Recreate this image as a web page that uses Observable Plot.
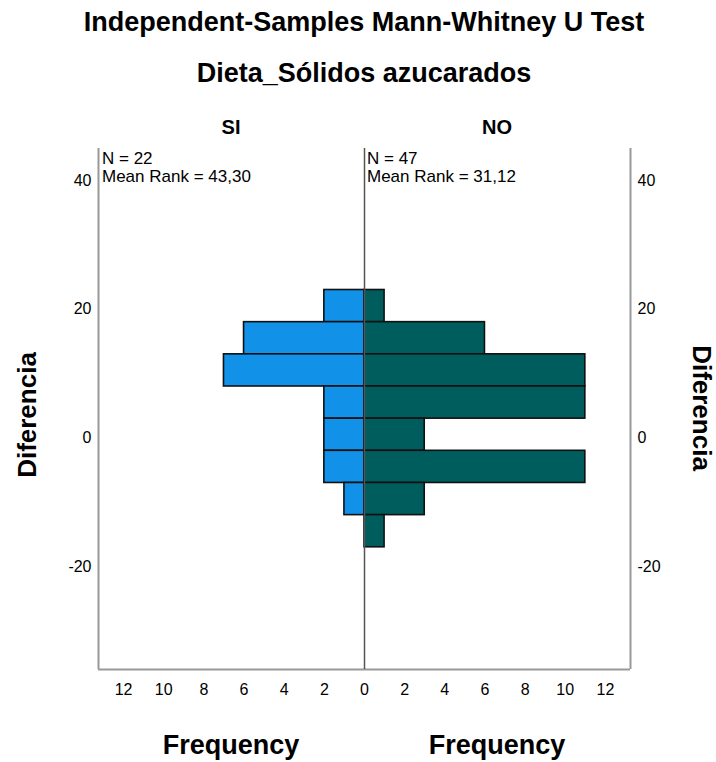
<!DOCTYPE html>
<html>
<head>
<meta charset="utf-8">
<script src="https://cdn.jsdelivr.net/npm/d3@7"></script>
<script src="https://cdn.jsdelivr.net/npm/@observablehq/plot@0.6"></script>
<style>
  body { margin: 0; background: #fff; }
  #wrap { position: relative; width: 716px; height: 762px; overflow: hidden; font-family: "Liberation Sans", Arial, sans-serif; color: #000; }
  .t { position: absolute; white-space: nowrap; }
  .bold { font-weight: bold; }
</style>
</head>
<body>
<div id="wrap"></div>
<script>
// ---- data ----
const title = "Independent-Samples Mann-Whitney U Test";
const subtitle = "Dieta_Sólidos azucarados";
const groups = ["SI", "NO"];
const groupN = [22, 47];
const groupMeanRank = ["43,30", "31,12"];
const binStart = [18, 13, 8, 3, -2, -7, -12, -17];
const binEnd   = [23, 18, 13, 8, 3, -2, -7, -12];
const freqSI = [2, 6, 7, 2, 2, 2, 1, 0];
const freqNO = [1, 6, 11, 11, 3, 11, 3, 1];
const yTicks = [-20, 0, 20, 40];
const xTicks = [-12, -10, -8, -6, -4, -2, 0, 2, 4, 6, 8, 10, 12];
const yLabel = "Diferencia";
const xLabel = "Frequency";
const colors = ["#1192e8", "#005d5d"];

const yDomain = [-36, 45];
const xDomain = [-13.25, 13.25];

const siBars = binStart.map((s, i) => ({y1: s, y2: binEnd[i], f: -freqSI[i]})).filter(d => d.f !== 0);
const noBars = binStart.map((s, i) => ({y1: s, y2: binEnd[i], f: freqNO[i]})).filter(d => d.f !== 0);

const chart = Plot.plot({
  width: 716,
  height: 762,
  marginTop: 148,
  marginBottom: 93,
  marginLeft: 98,
  marginRight: 86,
  style: {fontFamily: "Liberation Sans, Arial, sans-serif", fontSize: "16px", color: "#000", background: "#fff"},
  x: {domain: xDomain, axis: null},
  y: {domain: yDomain, axis: null},
  marks: [
    Plot.ruleX([xDomain[0], xDomain[1]], {stroke: "#999", strokeWidth: 2}),
    Plot.ruleY([yDomain[0]], {stroke: "#999", strokeWidth: 2}),
    Plot.rectX(siBars, {x1: 0, x2: "f", y1: "y1", y2: "y2", fill: colors[0], stroke: "#111", strokeWidth: 1.6, inset: 0}),
    Plot.rectX(noBars, {x1: 0, x2: "f", y1: "y1", y2: "y2", fill: colors[1], stroke: "#111", strokeWidth: 1.6, inset: 0}),
    Plot.ruleX([0], {stroke: "#555", strokeWidth: 1.5}),
    Plot.axisY(yTicks, {anchor: "left", tickSize: 0, tickPadding: 7, label: null, fontSize: 16, tickFormat: d => String(d)}),
    Plot.axisY(yTicks, {anchor: "right", tickSize: 0, tickPadding: 7, label: null, fontSize: 16, tickFormat: d => String(d)}),
    Plot.axisX(xTicks, {anchor: "bottom", tickSize: 0, tickPadding: 14, label: null, fontSize: 16, tickFormat: d => String(Math.abs(d))})
  ]
});

const wrap = document.getElementById("wrap");
chart.style.position = "absolute";
chart.style.left = "0px";
chart.style.top = "0px";
wrap.appendChild(chart);

function addText(txt, css, cls) {
  const d = document.createElement("div");
  d.className = "t " + (cls || "");
  d.textContent = txt;
  Object.assign(d.style, css);
  wrap.appendChild(d);
  return d;
}

// Titles
addText(title, {left: "0px", width: "728px", textAlign: "center", top: "7px", fontSize: "27px", lineHeight: "30px"}, "bold");
addText(subtitle, {left: "0px", width: "728px", textAlign: "center", top: "58px", fontSize: "27px", lineHeight: "30px"}, "bold");

// Group headers
const panelCenters = [231, 497];
groups.forEach((g, i) => {
  addText(g, {left: (panelCenters[i] - 60) + "px", width: "120px", textAlign: "center", top: "115px", fontSize: "20px", lineHeight: "24px", fontFamily: "'Liberation Sans Narrow', 'Liberation Sans', sans-serif"}, "bold");
});

// N / Mean Rank
const panelLefts = [102, 367];
groups.forEach((g, i) => {
  const d = addText("", {left: panelLefts[i] + "px", top: "150px", fontSize: "17px", lineHeight: "18px"});
  d.innerHTML = "N = " + groupN[i] + "<br>Mean Rank = " + groupMeanRank[i];
});

// Frequency labels
panelCenters.forEach(c => {
  addText(xLabel, {left: (c - 100) + "px", width: "200px", textAlign: "center", top: "730px", fontSize: "27px", lineHeight: "30px"}, "bold");
});

// Diferencia labels
addText(yLabel, {left: "27px", top: "415px", fontSize: "26px", lineHeight: "26px", transform: "translate(-50%,-50%) rotate(-90deg)"}, "bold");
addText(yLabel, {left: "702px", top: "408px", fontSize: "26px", lineHeight: "26px", transform: "translate(-50%,-50%) rotate(90deg)"}, "bold");
</script>
</body>
</html>
